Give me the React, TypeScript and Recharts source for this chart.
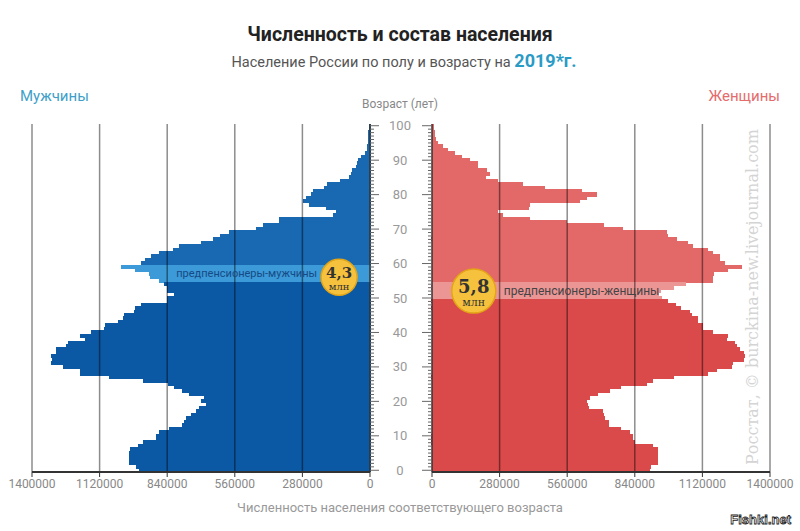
import React from "react";
import {
  BarChart,
  Bar,
  XAxis,
  YAxis,
  Cell,
  ReferenceLine,
  ReferenceDot,
} from "recharts";

// население по возрасту 0..100, тыс. человек (чтение с картинки)
const menValues = [
  955, 968, 995, 995, 995, 995, 990, 960, 940, 885,
  885, 870, 830, 775, 767, 760, 740, 720, 705, 677,
  700, 684, 746, 775, 810, 836, 940, 1080, 1200, 1200,
  1270, 1320, 1315, 1320, 1300, 1300, 1257, 1250, 1180, 1200,
  1154, 1100, 1095, 1040, 1020, 1015, 975, 970, 947, 840,
  840, 810, 840, 840, 850, 870, 910, 915, 970, 1030,
  946, 930, 905, 870, 815, 790, 700, 650, 620, 580,
  470, 443, 373, 373, 150, 138, 180, 250, 274, 262,
  242, 236, 190, 178, 124, 83, 76, 74, 56, 50,
  48, 35, 20, 12, 9, 8, 7, 6, 5, 4,
  4,
];

const womenValues = [
  900, 905, 935, 935, 935, 935, 935, 915, 840, 830,
  830, 820, 780, 730, 730, 716, 710, 705, 650, 645,
  640, 654, 687, 737, 780, 890, 915, 1000, 1140, 1180,
  1240, 1245, 1290, 1295, 1290, 1275, 1260, 1255, 1220, 1225,
  1160, 1120, 1120, 1100, 1100, 1075, 1065, 1030, 1010, 975,
  950, 940, 945, 1000, 1050, 1160, 1160, 1165, 1226, 1280,
  1210, 1190, 1190, 1160, 1140, 1080, 1060, 1013, 977, 970,
  790, 710, 557, 405, 290, 270, 400, 405, 610, 640,
  680, 620, 467, 376, 270, 220, 240, 225, 190, 190,
  156, 122, 94, 66, 45, 21, 15, 12, 10, 8,
  7,
];

const xTicks = [0, 280000, 560000, 840000, 1120000, 1400000];
const gridValues = [280000, 560000, 840000, 1120000, 1400000];
const ageLabels = [0, 10, 20, 30, 40, 50, 60, 70, 80, 90, 100];

const menPreRetire = [55, 56, 57, 58, 59];
const womenPreRetire = [50, 51, 52, 53, 54];

const data = menValues
  .map((m, age) => ({ age, men: m * 1000, women: womenValues[age] * 1000 }))
  .reverse();

const FONT = "Roboto, 'Liberation Sans', sans-serif";
const PLOT_TOP = 124;
const PLOT_H = 348;
const BAR_SIZE = PLOT_H / data.length;

function menColor(age: number) {
  if (menPreRetire.includes(age)) return "#3b9ad7";
  if (age >= 60) return "#1868b2";
  return "#0b59a4";
}

function womenColor(age: number) {
  if (womenPreRetire.includes(age)) return "#ec9595";
  if (age >= 55) return "#e36868";
  return "#da4a4a";
}

const LeftTick = (props: any) => {
  const { x, y, payload } = props;
  const major = ageLabels.includes(payload.value);
  return (
    <line x1={x} x2={x + (major ? 9 : 4)} y1={y} y2={y} stroke="#666" strokeWidth={1} />
  );
};

const RightTick = (props: any) => {
  const { x, y, payload } = props;
  const major = ageLabels.includes(payload.value);
  return (
    <g>
      <line x1={x} x2={x - (major ? 10 : 4)} y1={y} y2={y} stroke="#666" strokeWidth={1} />
      {major && (
        <text
          x={x - 32}
          y={y}
          textAnchor="middle"
          dominantBaseline="central"
          fill="#999"
          fontSize={13}
          fontFamily={FONT}
        >
          {payload.value}
        </text>
      )}
    </g>
  );
};

const MenBadge = (props: any) => {
  const { cx, cy } = props;
  return (
    <g>
      <text
        x={cx - 22}
        y={cy - 4}
        textAnchor="end"
        dominantBaseline="central"
        fill="#164a86"
        fontSize={11}
        fontFamily={FONT}
      >
        предпенсионеры-мужчины
      </text>
      <circle cx={cx} cy={cy} r={18} fill="#f6c23e" stroke="#e3a516" strokeWidth={1.5} />
      <text x={cx} y={cy - 4} textAnchor="middle" dominantBaseline="central" fill="#333" fontSize={15} fontWeight="bold" fontFamily="'DejaVu Serif', serif">
        4,3
      </text>
      <text x={cx} y={cy + 9} textAnchor="middle" dominantBaseline="central" fill="#333" fontSize={10} fontFamily="'DejaVu Serif', serif">
        млн
      </text>
    </g>
  );
};

const WomenBadge = (props: any) => {
  const { cx, cy } = props;
  return (
    <g>
      <text
        x={cx + 30}
        y={cy}
        textAnchor="start"
        dominantBaseline="central"
        fill="#444"
        fontSize={12}
        fontFamily={FONT}
      >
        предпенсионеры-женщины
      </text>
      <circle cx={cx} cy={cy} r={22} fill="#f6c23e" stroke="#e3a516" strokeWidth={1.5} />
      <text x={cx} y={cy - 5} textAnchor="middle" dominantBaseline="central" fill="#333" fontSize={18} fontWeight="bold" fontFamily="'DejaVu Serif', serif">
        5,8
      </text>
      <text x={cx} y={cy + 11} textAnchor="middle" dominantBaseline="central" fill="#333" fontSize={11} fontFamily="'DejaVu Serif', serif">
        млн
      </text>
    </g>
  );
};

const xTickStyle = { fill: "#888", fontSize: 12, fontFamily: FONT };

export default function App() {
  return (
    <div
      style={{
        position: "fixed",
        left: 0,
        top: 0,
        width: 800,
        height: 531,
        background: "#fff",
        fontFamily: FONT,
        overflow: "hidden",
      }}
    >
      <div style={{ position: "absolute", top: 24, left: 0, width: 800, textAlign: "center", fontSize: 19.5, lineHeight: "22px", fontWeight: "bold", color: "#222" }}>
        Численность и состав населения
      </div>
      <div style={{ position: "absolute", top: 50, left: 4, width: 800, textAlign: "center", fontSize: 14.5, lineHeight: "22px", color: "#555" }}>
        Население России по полу и возрасту на{" "}
        <span style={{ fontSize: 18, fontWeight: "bold", color: "#2a9bc5" }}>2019*г.</span>
      </div>
      <div style={{ position: "absolute", top: 86, left: 20, fontSize: 15, lineHeight: "20px", color: "#3ea0c9" }}>
        Мужчины
      </div>
      <div style={{ position: "absolute", top: 86, right: 20, fontSize: 15, lineHeight: "20px", color: "#e46c6c" }}>
        Женщины
      </div>
      <div style={{ position: "absolute", top: 96, left: 0, width: 800, textAlign: "center", fontSize: 12, lineHeight: "16px", color: "#888" }}>
        Возраст (лет)
      </div>

      <div style={{ position: "absolute", left: 0, top: 0 }}>
        <BarChart
          width={400}
          height={531}
          data={data}
          layout="vertical"
          margin={{ top: PLOT_TOP, right: 20, bottom: 531 - PLOT_TOP - PLOT_H - 30, left: 32 }}
          barCategoryGap={0}
        >
          <XAxis
            type="number"
            domain={[0, 1400000]}
            reversed
            ticks={xTicks}
            interval={0}
            tick={xTickStyle}
            tickSize={5}
            axisLine={{ stroke: "#333", strokeWidth: 2 }}
            tickLine={{ stroke: "#333" }}
          />
          <YAxis
            type="category"
            dataKey="age"
            orientation="right"
            width={10}
            interval={0}
            tickSize={0}
            tickMargin={0}
            tick={<LeftTick />}
            axisLine={{ stroke: "#333", strokeWidth: 1.5 }}
          />
          <Bar dataKey="men" barSize={BAR_SIZE} isAnimationActive={false}>
            {data.map((d) => (
              <Cell
                key={d.age}
                fill={menColor(d.age)}
                stroke={menColor(d.age)}
                strokeWidth={1}
                shapeRendering="crispEdges"
              />
            ))}
          </Bar>
          {gridValues.map((v) => (
            <ReferenceLine key={v} x={v} stroke="rgba(0,0,0,0.45)" strokeWidth={1.5} />
          ))}
          <ReferenceDot x={128000} y={56} r={18} shape={<MenBadge />} />
        </BarChart>
      </div>

      <div style={{ position: "absolute", left: 370, top: 0 }}>
        <BarChart
          width={430}
          height={531}
          data={data}
          layout="vertical"
          margin={{ top: PLOT_TOP, right: 30, bottom: 531 - PLOT_TOP - PLOT_H - 30, left: 30 }}
          barCategoryGap={0}
        >
          <XAxis
            type="number"
            domain={[0, 1400000]}
            ticks={xTicks}
            interval={0}
            tick={xTickStyle}
            tickSize={5}
            axisLine={{ stroke: "#333", strokeWidth: 2 }}
            tickLine={{ stroke: "#333" }}
          />
          <YAxis
            type="category"
            dataKey="age"
            orientation="left"
            width={32}
            interval={0}
            tickSize={0}
            tickMargin={0}
            tick={<RightTick />}
            axisLine={{ stroke: "#333", strokeWidth: 1.5 }}
          />
          <Bar dataKey="women" barSize={BAR_SIZE} isAnimationActive={false}>
            {data.map((d) => (
              <Cell
                key={d.age}
                fill={womenColor(d.age)}
                stroke={womenColor(d.age)}
                strokeWidth={1}
                shapeRendering="crispEdges"
              />
            ))}
          </Bar>
          {gridValues.map((v) => (
            <ReferenceLine key={v} x={v} stroke="rgba(0,0,0,0.45)" strokeWidth={1.5} />
          ))}
          <ReferenceDot x={173000} y={52} r={22} shape={<WomenBadge />} />
        </BarChart>
      </div>

      <div
        style={{
          position: "absolute",
          left: 752,
          top: 297,
          transform: "translate(-50%, -50%) rotate(-90deg)",
          whiteSpace: "nowrap",
          fontFamily: "'DejaVu Serif', serif",
          fontSize: 16,
          color: "#d4d4d4",
        }}
      >
        Росстат, © burckina-new.livejournal.com
      </div>

      <div style={{ position: "absolute", top: 500, left: 0, width: 800, textAlign: "center", fontSize: 13, lineHeight: "16px", color: "#999" }}>
        Численность населения соответствующего возраста
      </div>
      <div
        style={{
          position: "absolute",
          top: 512,
          right: 9,
          fontSize: 13,
          lineHeight: "16px",
          fontWeight: "bold",
          fontFamily: "'Liberation Sans', sans-serif",
          color: "#fff",
          WebkitTextStroke: "0.8px #222",
        }}
      >
        Fishki.net
      </div>
    </div>
  );
}
